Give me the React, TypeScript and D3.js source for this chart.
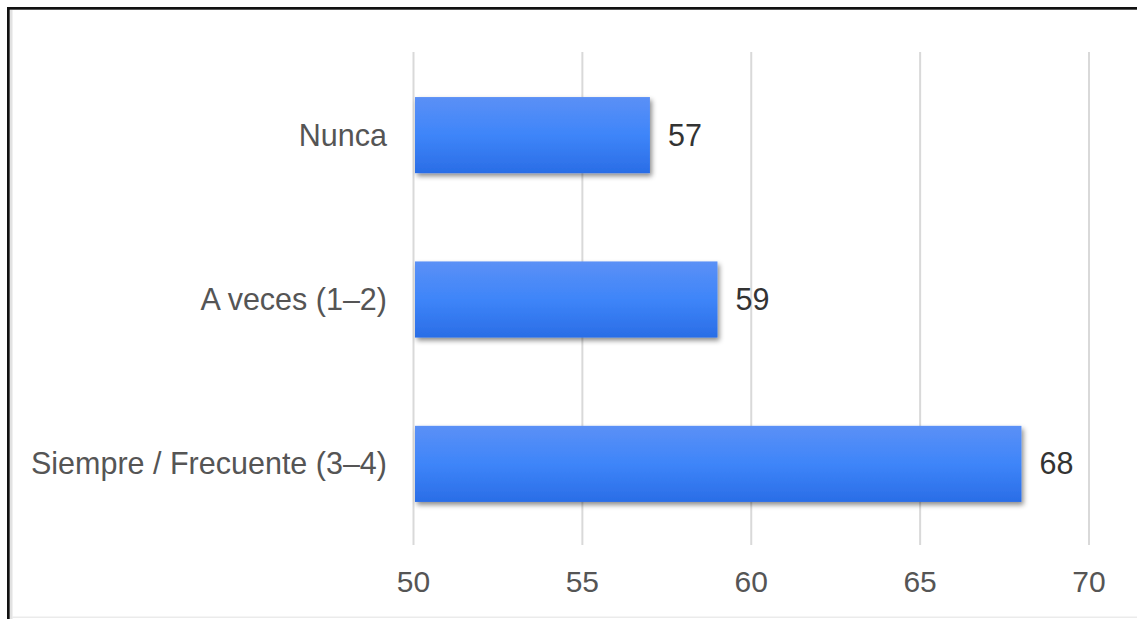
import React from "react";
import * as d3 from "d3";

const categories = ["Nunca", "A veces (1–2)", "Siempre / Frecuente (3–4)"];
const values = [57, 59, 68];
const xTicks = [50, 55, 60, 65, 70];

const W = 1137;
const H = 619;

export default function App() {
  const x = d3.scaleLinear().domain([50, 70]).range([413.5, 1089]);
  const y = d3
    .scaleBand<string>()
    .domain(categories)
    .range([53, 546])
    .paddingInner(0.537)
    .paddingOuter(0.268);
  const font = "'Liberation Sans', Arial, sans-serif";
  return (
    <svg
      width={W}
      height={H}
      style={{ position: "absolute", left: 0, top: 0, background: "#fff" }}
    >
      <defs>
        <linearGradient id="barGrad" x1="0" y1="0" x2="0" y2="1">
          <stop offset="0%" stopColor="#5b90f6" />
          <stop offset="50%" stopColor="#3e85f9" />
          <stop offset="100%" stopColor="#2a6de6" />
        </linearGradient>
        <filter id="shadow" x="-10%" y="-20%" width="130%" height="160%">
          <feDropShadow dx="2" dy="3" stdDeviation="2.5" floodColor="#000" floodOpacity="0.45" />
        </filter>
      </defs>
      <rect x={0} y={0} width={W} height={H} fill="#fff" />
      {/* frame */}
      <rect x={10} y={10} width={2.5} height={H - 10} fill="#e2e2e2" />
      <rect x={12} y={616.5} width={W - 12} height={1.5} fill="#ebebeb" />
      <rect x={7} y={7} width={W - 7} height={2.7} fill="#111" />
      <rect x={7} y={7} width={2.7} height={H - 7} fill="#111" />
      {/* gridlines */}
      {xTicks.map((t) => (
        <line
          key={t}
          x1={x(t)}
          x2={x(t)}
          y1={52}
          y2={545}
          stroke="#d9d9d9"
          strokeWidth={2}
        />
      ))}
      {/* tick labels */}
      {xTicks.map((t) => (
        <text
          key={"l" + t}
          x={x(t)}
          y={592}
          textAnchor="middle"
          fontFamily={font}
          fontSize={30}
          fill="#555"
        >
          {t}
        </text>
      ))}
      {/* bars */}
      {categories.map((c, i) => (
        <rect
          key={c}
          x={x(50) + 1.5}
          y={y(c)!}
          width={x(values[i]) - x(50) - 1.5}
          height={y.bandwidth()}
          fill="url(#barGrad)"
          filter="url(#shadow)"
        />
      ))}
      {/* category labels */}
      {categories.map((c) => (
        <text
          key={"c" + c}
          x={387}
          y={y(c)! + y.bandwidth() / 2 + 10.5}
          textAnchor="end"
          fontFamily={font}
          fontSize={30.5}
          fill="#555"
        >
          {c}
        </text>
      ))}
      {/* value labels */}
      {categories.map((c, i) => (
        <text
          key={"v" + c}
          x={x(values[i]) + 18}
          y={y(c)! + y.bandwidth() / 2 + 10.5}
          fontFamily={font}
          fontSize={30.5}
          fill="#333"
        >
          {values[i]}
        </text>
      ))}
    </svg>
  );
}
